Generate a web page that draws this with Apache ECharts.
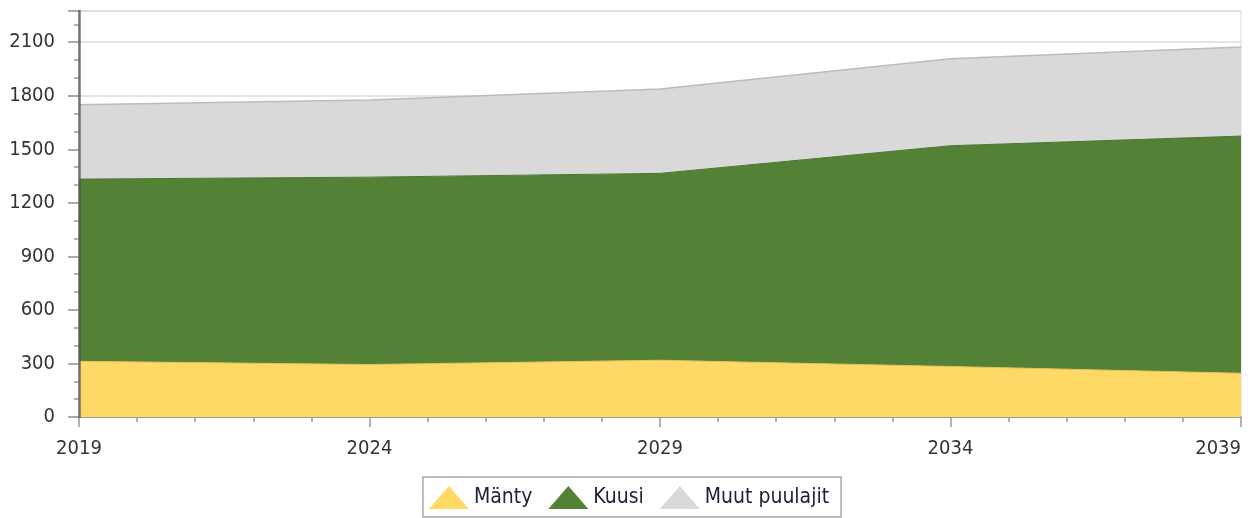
<!DOCTYPE html>
<html>
<head>
<meta charset="utf-8">
<script src="https://cdn.jsdelivr.net/npm/echarts@6/dist/echarts.min.js"></script>
<style>
html, body { margin: 0; padding: 0; background: #fff; }
#chart { width: 1258px; height: 518px; }
</style>
</head>
<body>
<div id="chart"></div>
<script>
var years = [2019, 2024, 2029, 2034, 2039];
var manty = [312, 294, 318, 283, 245];
var kuusi = [1021, 1050, 1047, 1237, 1329];
var muut = [417, 432, 473, 487, 499];

var seriesNames = ['Mänty', 'Kuusi', 'Muut puulajit'];
var fillColors = ['#ffd966', '#538135', '#d9d9d9'];
var lineColors = ['#e6c25a', '#4a7330', '#bcbcbc'];

// value first, year second, so the stack goes on y (x is a value axis too)
var pairs = (vals) => years.map((y, i) => [vals[i], y]);

var myChart = echarts.init(document.getElementById('chart'));

var font = '"DejaVu Sans Condensed", "DejaVu Sans", sans-serif';
var yMax = 2275;

var option = {
	animation: false,
	textStyle: { fontFamily: font },
	grid: {
		left: 79,
		right: 17,
		top: 11,
		bottom: 101,
		outerBoundsMode: 'none',
		containLabel: false,
		show: true,
		borderColor: '#d9d9d9',
		borderWidth: 1
	},
	color: fillColors,
	legend: {
		bottom: 1,
		left: 'center',
		icon: 'triangle',
		itemWidth: 40,
		itemHeight: 23,
		itemGap: 16,
		padding: [9, 12, 8, 6],
		borderColor: '#a6a6a6',
		borderWidth: 1.5,
		textStyle: { fontSize: 21, color: '#1f1f3a', fontFamily: font },
		data: seriesNames
	},
	xAxis: {
		type: 'value',
		min: 2019,
		max: 2039,
		interval: 5,
		axisLine: { lineStyle: { color: '#999', width: 2 } },
		axisTick: { length: 10, lineStyle: { color: '#999', width: 1.5 } },
		minorTick: { show: true, splitNumber: 5, length: 5, lineStyle: { color: '#999', width: 1.5 } },
		splitLine: { show: false },
		axisLabel: {
			fontSize: 20,
			color: '#333',
			margin: 22,
			alignMaxLabel: 'right',
			formatter: (v) => String(v)
		}
	},
	yAxis: [{
		type: 'value',
		min: 0,
		max: yMax,
		interval: 300,
		axisLine: { show: false },
		axisTick: { show: true, length: 11, lineStyle: { color: '#aaa', width: 2 } },
		minorTick: { show: true, splitNumber: 3, length: 5, lineStyle: { color: '#999', width: 1.5 } },
		splitLine: { show: true, lineStyle: { color: '#dcdcdc', width: 1.5 } },
		axisLabel: {
			fontSize: 20,
			color: '#333',
			margin: 24,
			showMaxLabel: false,
			formatter: (v) => String(v)
		}
	}, {
		// just the dark axis line, drawn above the areas
		type: 'value',
		position: 'left',
		min: 0,
		max: yMax,
		z: 5,
		axisLine: { show: true, lineStyle: { color: '#555', width: 2.5, opacity: 0.8 } },
		axisTick: { show: false },
		axisLabel: { show: false },
		splitLine: { show: false }
	}],
	series: [manty, kuusi, muut].map((vals, i) => ({
		name: seriesNames[i],
		type: 'line',
		stack: 'total',
		symbol: 'none',
		encode: { x: 1, y: 0 },
		data: pairs(vals),
		lineStyle: { color: lineColors[i], width: i === 2 ? 1.5 : 1 },
		itemStyle: { color: fillColors[i] },
		areaStyle: { color: fillColors[i], opacity: 1 }
	}))
};

myChart.setOption(option);
</script>
</body>
</html>
